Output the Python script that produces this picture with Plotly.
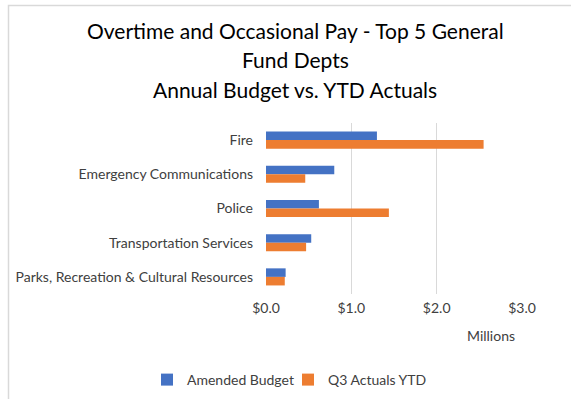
import plotly.graph_objects as go

# Department names (top to bottom) and amounts in millions of dollars
departments = [
    "Fire",
    "Emergency Communications",
    "Police",
    "Transportation Services",
    "Parks, Recreation & Cultural Resources",
]
amended_budget = [1.30, 0.80, 0.62, 0.53, 0.23]
q3_actuals_ytd = [2.55, 0.46, 1.44, 0.47, 0.22]

x_ticks = [0, 1, 2, 3]

title_lines = [
    "Overtime and Occasional Pay - Top 5 General",
    "Fund Depts",
    "Annual Budget vs. YTD Actuals",
]

W, H = 571, 399
L, R, T, B = 266, 49, 123, 105
FONT = "Lato"
TXT = "#404040"

fig = go.Figure()
fig.add_trace(go.Bar(
    y=departments, x=amended_budget, orientation="h",
    name="Amended Budget", marker=dict(color="#4472C4", line=dict(width=0)),
))
fig.add_trace(go.Bar(
    y=departments, x=q3_actuals_ytd, orientation="h",
    name="Q3 Actuals YTD", marker=dict(color="#ED7D31", line=dict(width=0)),
))

pw, ph = W - L - R, H - T - B


def px_x(p):
    return (p - L) / pw


def px_y(p):
    return 1 - (p - T) / ph


fig.update_layout(
    width=W, height=H,
    margin=dict(l=L, r=R, t=T, b=B, pad=0, autoexpand=False),
    paper_bgcolor="white", plot_bgcolor="white",
    font=dict(family=FONT, size=14, color=TXT),
    barmode="group", bargap=0.5, bargroupgap=0,
    xaxis=dict(
        range=[0, 3], tickvals=x_ticks, tickformat="$.1f",
        showgrid=True, gridcolor="#d9d9d9", gridwidth=1,
        zeroline=False, showline=False, ticks="",
        ticklabelstandoff=4,
        tickfont=dict(family=FONT, size=14, color=TXT),
    ),
    yaxis=dict(
        autorange="reversed", showgrid=False, showline=False, ticks="",
        ticklabelstandoff=12,
        tickfont=dict(family=FONT, size=14, color=TXT),
    ),
    legend=dict(
        orientation="h", x=px_x(147), xanchor="left", xref="paper",
        y=px_y(380), yanchor="middle", yref="paper",
        font=dict(family=FONT, size=14, color=TXT),
        itemwidth=30, traceorder="normal", entrywidth=96,
    ),
    showlegend=True,
)

# Three-line chart title
for line, yc in zip(title_lines, [30, 59.5, 89]):
    fig.add_annotation(
        text=line, xref="paper", yref="paper",
        x=px_x(295), y=px_y(yc), xanchor="center", yanchor="middle",
        showarrow=False, font=dict(family=FONT, size=21, color="#000000"),
    )

fig.add_annotation(
    text="Millions", xref="paper", yref="paper",
    x=px_x(517), y=px_y(335), xanchor="right", yanchor="middle",
    showarrow=False, font=dict(family=FONT, size=14, color=TXT),
)

# Chart area border (only top and left edges fall inside the window)
fig.add_shape(
    type="rect", xref="paper", yref="paper",
    x0=px_x(8.5), x1=px_x(W + 20), y0=px_y(H + 20), y1=px_y(5.5),
    line=dict(color="#d9d9d9", width=1.5), fillcolor="rgba(0,0,0,0)",
    layer="below",
)

fig.write_html("out.html")
